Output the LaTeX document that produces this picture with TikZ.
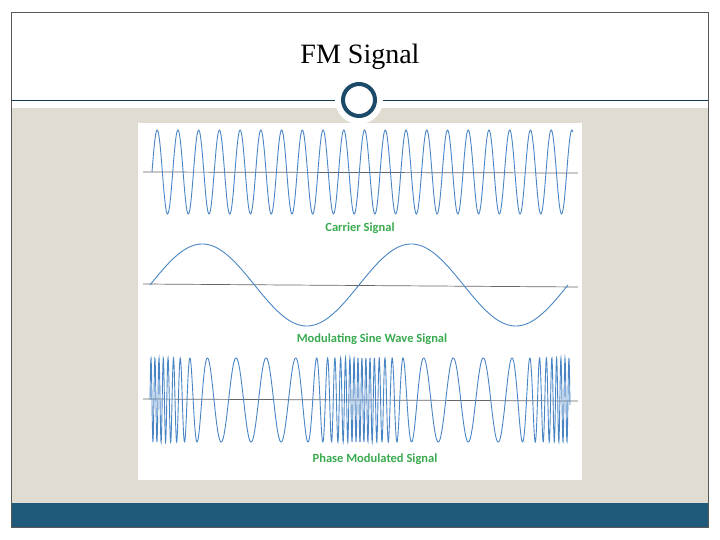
\documentclass[tikz,border=0pt]{standalone}
\usepackage{fontspec}
\setmainfont{Liberation Serif}
\newfontfamily\lbl{Carlito}
\definecolor{beige}{HTML}{E0DCD2}
\definecolor{bar}{HTML}{1F5A7A}
\definecolor{ring}{HTML}{1B4A68}
\definecolor{wave}{HTML}{4A86C5}
\definecolor{lblg}{HTML}{3AAA50}
\tikzset{x=1pt,y=-1pt,
 wv/.style={wave,line width=0.9pt},
 ax/.style={gray!80!black,line width=0.7pt},
 lab/.style={text=lblg,font=\lbl\bfseries\fontsize{12.5}{14}\selectfont}}
\begin{document}
\begin{tikzpicture}
\useasboundingbox (0,0) rectangle (720,540);
\fill[white] (0,0) rectangle (720,540);
\fill[beige] (11,108) rectangle (708,503);
\fill[bar] (11,503) rectangle (708,527);
\draw[gray!70!black,line width=0.6pt] (11,12) rectangle (708,527);
\draw[ring!80!black,line width=0.8pt] (11,100) -- (708,100);
\node[circle,fill=white,minimum size=48pt,inner sep=0] (halo) at (359,100) {};
\node[circle,draw=ring,line width=4pt,fill=white,minimum size=32pt,inner sep=0] (ring) at (359,100) {};
\node[font=\fontsize{28}{32}\selectfont] (title) at (360,57) {FM Signal};
\fill[white] (138,123) rectangle (582,480);
% carrier
\draw[ax] (143,172) -- (578,173);
\draw[wv] plot[domain=0:421,samples=700] ({152+\x},{172-42*sin(17.36*\x)});
\node[lab] (l1) at (360,228) {Carrier Signal};
% modulating
\draw[ax] (143,284) -- (578,287);
\draw[wv] plot[domain=0:418,samples=300] ({150+\x},{285-41*sin(1.7225*\x)});
\node[lab] (l2) at (372,339) {Modulating Sine Wave Signal};
% PM
\draw[ax] (143,399) -- (578,401);
\draw[wv] plot[domain=0:210,samples=1000] ({150+\x},{400-42*sin(33.875*\x+1169.8*sin(1.7143*\x)+292.4*sin(3.4286*\x)+55.7*sin(5.1429*\x)+5.22*sin(6.8571*\x))});
\draw[wv] plot[domain=0:210,samples=1000] ({360+\x},{400-42*sin(273.75+33.875*\x+1169.8*sin(1.7143*\x)+292.4*sin(3.4286*\x)+55.7*sin(5.1429*\x)+5.22*sin(6.8571*\x))});
\node[lab] (l3) at (375,459) {Phase Modulated Signal};
\end{tikzpicture}
\end{document}
